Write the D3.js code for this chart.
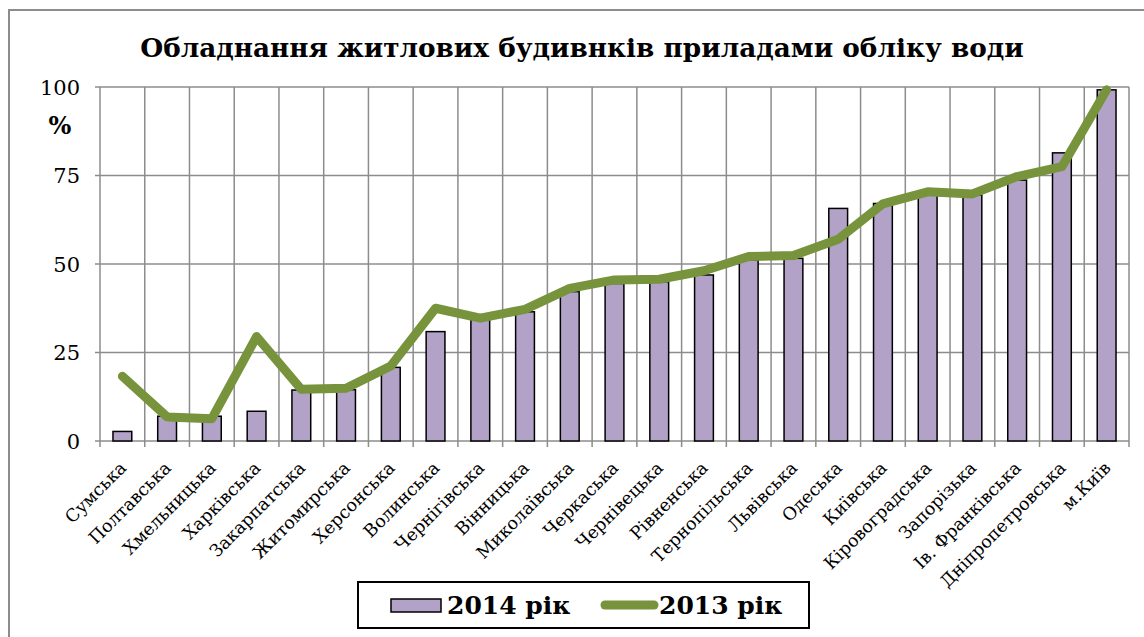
<!DOCTYPE html>
<html>
<head>
<meta charset="utf-8">
<script src="https://cdn.jsdelivr.net/npm/d3@7"></script>
<style>
  body { margin: 0; background: #fff; }
  svg { display: block; font-family: "DejaVu Serif", serif; }
</style>
</head>
<body>
<div id="chart"></div>
<script>
// Обладнання житлових будинків приладами обліку води

const regions = [
  'Сумська', 'Полтавська', 'Хмельницька', 'Харківська', 'Закарпатська',
  'Житомирська', 'Херсонська', 'Волинська', 'Чернігівська', 'Вінницька',
  'Миколаївська', 'Черкаська', 'Чернівецька', 'Рівненська', 'Тернопільська',
  'Львівська', 'Одеська', 'Київська', 'Кіровоградська', 'Запорізька',
  'Ів. Франківська', 'Дніпропетровська', 'м.Київ'
];

const values2014 = [2.7, 7.0, 7.0, 8.4, 14.4, 14.5, 20.8, 30.9, 34.2, 36.5,
  42.2, 44.5, 45.0, 46.9, 51.1, 51.6, 65.7, 67.1, 69.5, 69.5, 73.7, 81.4, 99.2];

const values2013 = [18.3, 6.8, 6.3, 29.5, 14.6, 14.9, 21.2, 37.5, 34.7, 37.2,
  43.1, 45.5, 45.7, 48.1, 52.1, 52.4, 57.0, 67.0, 70.4, 69.8, 74.7, 77.5, 99.2];

const yTicks = [0, 25, 50, 75, 100];
const seriesNames = ['2014 рік', '2013 рік'];

const width = 1144;
const height = 637;
const plot = { left: 100, right: 1129, top: 87, bottom: 441 };

const barColor = '#b3a2c7';
const lineColor = '#77933c';
const gridColor = '#8c8c8c';

const svg = d3.select('#chart')
  .append('svg')
  .attr('width', width)
  .attr('height', height);

// outer frame of the chart area (runs off the right/bottom edge)
svg.append('rect')
  .attr('x', 9)
  .attr('y', 10)
  .attr('width', 1200)
  .attr('height', 700)
  .attr('fill', 'none')
  .attr('stroke', gridColor)
  .attr('stroke-width', 2);

svg.append('text')
  .attr('x', 582)
  .attr('y', 57)
  .attr('text-anchor', 'middle')
  .attr('font-size', 26.3)
  .attr('font-weight', 'bold')
  .text('Обладнання житлових будивнків приладами обліку води');

const x = d3.scaleBand()
  .domain(regions)
  .range([plot.left, plot.right])
  .paddingInner(0.58)
  .paddingOuter(0.29);

const y = d3.scaleLinear()
  .domain([0, 100])
  .range([plot.bottom, plot.top]);

const step = x.step();

// grid
const grid = svg.append('g')
  .attr('stroke', gridColor)
  .attr('stroke-width', 1.5);

grid.selectAll('line.h')
  .data(yTicks)
  .enter()
  .append('line')
  .attr('class', 'h')
  .attr('x1', plot.left - 5)
  .attr('x2', plot.right)
  .attr('y1', d => y(d))
  .attr('y2', d => y(d));

const boundaries = d3.range(regions.length + 1).map(i => plot.left + i * step);

grid.selectAll('line.v')
  .data(boundaries)
  .enter()
  .append('line')
  .attr('class', 'v')
  .attr('x1', d => d)
  .attr('x2', d => d)
  .attr('y1', plot.top)
  .attr('y2', plot.bottom + 6);

// bars
svg.append('g')
  .selectAll('rect')
  .data(regions)
  .enter()
  .append('rect')
  .attr('x', d => x(d))
  .attr('y', (d, i) => y(values2014[i]))
  .attr('width', x.bandwidth())
  .attr('height', (d, i) => y(0) - y(values2014[i]))
  .attr('fill', barColor)
  .attr('stroke', '#000')
  .attr('stroke-width', 1.5);

// 2013 line
const line = d3.line()
  .x((d, i) => x(regions[i]) + x.bandwidth() / 2)
  .y(d => y(d));

svg.append('path')
  .datum(values2013)
  .attr('d', line)
  .attr('fill', 'none')
  .attr('stroke', lineColor)
  .attr('stroke-width', 9)
  .attr('stroke-linejoin', 'round')
  .attr('stroke-linecap', 'round');

// y axis labels
svg.append('g')
  .selectAll('text')
  .data(yTicks)
  .enter()
  .append('text')
  .attr('x', 80)
  .attr('y', d => y(d))
  .attr('dy', '0.36em')
  .attr('text-anchor', 'end')
  .attr('font-size', 21)
  .text(d => d);

svg.append('text')
  .attr('x', 60)
  .attr('y', 134)
  .attr('text-anchor', 'middle')
  .attr('font-size', 24)
  .attr('font-weight', 'bold')
  .text('%');

// x axis labels, rotated
svg.append('g')
  .selectAll('text')
  .data(regions)
  .enter()
  .append('text')
  .attr('transform', d => `translate(${x(d) + x.bandwidth() / 2 + 5}, 469) rotate(-45)`)
  .attr('text-anchor', 'end')
  .attr('font-size', 17.5)
  .text(d => d);

// legend
const legend = svg.append('g');

legend.append('rect')
  .attr('x', 358)
  .attr('y', 582)
  .attr('width', 451)
  .attr('height', 46)
  .attr('fill', '#fff')
  .attr('stroke', '#000')
  .attr('stroke-width', 2);

legend.append('rect')
  .attr('x', 391)
  .attr('y', 599)
  .attr('width', 50)
  .attr('height', 13)
  .attr('fill', barColor)
  .attr('stroke', '#000')
  .attr('stroke-width', 1.5);

legend.append('text')
  .attr('x', 447)
  .attr('y', 614)
  .attr('font-size', 25)
  .attr('font-weight', 'bold')
  .text(seriesNames[0]);

legend.append('line')
  .attr('x1', 605)
  .attr('x2', 654)
  .attr('y1', 605)
  .attr('y2', 605)
  .attr('stroke', lineColor)
  .attr('stroke-width', 9)
  .attr('stroke-linecap', 'round');

legend.append('text')
  .attr('x', 659)
  .attr('y', 614)
  .attr('font-size', 25)
  .attr('font-weight', 'bold')
  .text(seriesNames[1]);
</script>
</body>
</html>
